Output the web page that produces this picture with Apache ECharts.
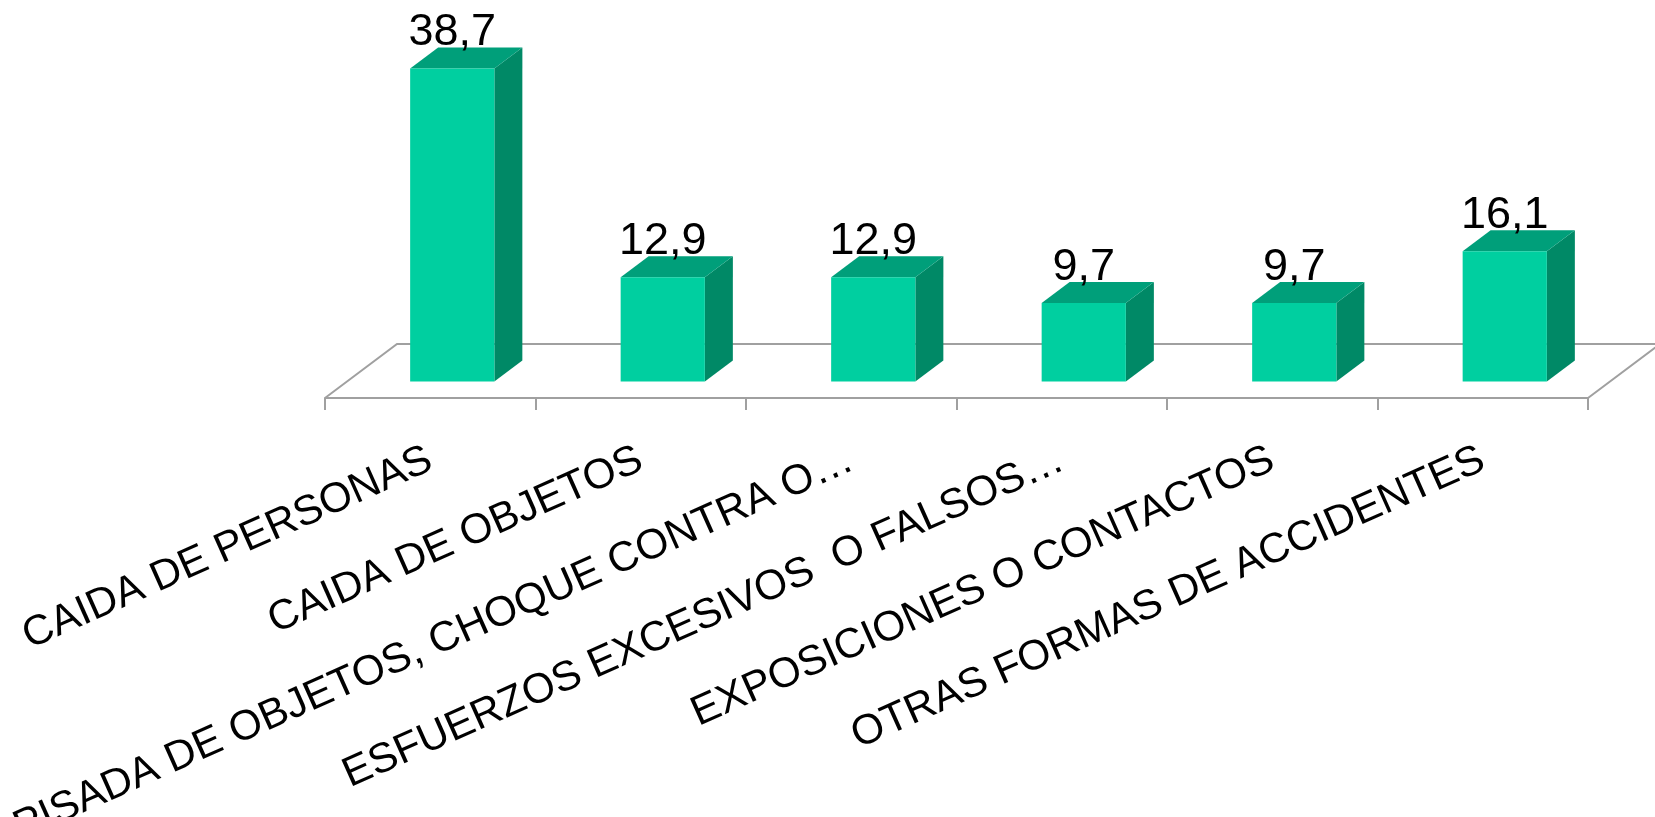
<!DOCTYPE html>
<html>
<head>
<meta charset="utf-8">
<script src="https://cdn.jsdelivr.net/npm/echarts@6/dist/echarts.min.js"></script>
<style>
  html, body { margin: 0; padding: 0; background: #fff; }
  #chart { width: 1655px; height: 817px; }
</style>
</head>
<body>
<div id="chart"></div>
<script>
var categories = [
  'CAIDA DE PERSONAS',
  'CAIDA DE OBJETOS',
  'PISADA DE OBJETOS, CHOQUE CONTRA O…',
  'ESFUERZOS EXCESIVOS  O FALSOS…',
  'EXPOSICIONES O CONTACTOS',
  'OTRAS FORMAS DE ACCIDENTES'
];
var values = [38.7, 12.9, 12.9, 9.7, 9.7, 16.1];

// pseudo 3d depth
var floorDx = 72, floorDy = 54;
var barDx = 28, barDy = 21;
var font = "'Liberation Sans', Arial, sans-serif";

var chart = echarts.init(document.getElementById('chart'));

function fmt(v) {
  return String(v).replace('.', ',');
}

var option = {
  animation: false,
  grid: {
    left: 325, right: 67, top: 34, bottom: 419,
    containLabel: false,
    outerBoundsMode: 'none'
  },
  xAxis: {
    type: 'category',
    data: categories,
    boundaryGap: true,
    axisLine: { lineStyle: { color: '#a0a0a0', width: 2 } },
    axisTick: { show: true, length: 12, lineStyle: { color: '#a0a0a0', width: 2 } },
    axisLabel: {
      interval: 0,
      rotate: 24,
      margin: 60,
      fontSize: 42,
      color: '#000',
      fontFamily: font
    }
  },
  yAxis: { type: 'value', min: 0, max: 45, show: false },
  series: [
    {
      // floor
      type: 'custom',
      z: 1,
      data: [[0]],
      renderItem: function (params, api) {
        var p0 = api.coord([0, 0]);
        var band = api.size([1, 0])[0];
        var left = p0[0] - band / 2;
        var right = left + band * categories.length;
        var y0 = p0[1];
        return {
          type: 'polyline',
          shape: {
            points: [
              [left, y0],
              [left + floorDx, y0 - floorDy],
              [right + floorDx, y0 - floorDy],
              [right, y0]
            ]
          },
          style: { fill: null, stroke: '#a0a0a0', lineWidth: 2 }
        };
      }
    },
    {
      type: 'custom',
      z: 3,
      data: values.map(function (v, i) { return [i, v]; }),
      renderItem: function (params, api) {
        var i = api.value(0), v = api.value(1);
        var base = api.coord([i, 0]);
        var top = api.coord([i, v]);
        var band = api.size([1, 0])[0];
        var w = band * 0.4;
        // bar sits in the middle of the floor depth
        var ox = (floorDx - barDx) / 2, oy = (floorDy - barDy) / 2;
        var x1 = base[0] - w / 2 + ox, x2 = x1 + w;
        var yb = base[1] - oy, yt = top[1] - oy;
        return {
          type: 'group',
          children: [
            {
              type: 'polygon',
              shape: { points: [[x2, yb], [x2 + barDx, yb - barDy], [x2 + barDx, yt - barDy], [x2, yt]] },
              style: { fill: '#008966' }
            },
            {
              type: 'polygon',
              shape: { points: [[x1, yt], [x1 + barDx, yt - barDy], [x2 + barDx, yt - barDy], [x2, yt]] },
              style: { fill: '#009f7a' }
            },
            {
              type: 'rect',
              shape: { x: x1, y: yt, width: w, height: yb - yt },
              style: { fill: '#00cfa0' }
            },
            {
              type: 'text',
              x: (x1 + x2) / 2,
              y: yt - barDy + 8,
              style: {
                text: fmt(v),
                fontSize: 45,
                fontFamily: font,
                fill: '#000',
                align: 'center',
                verticalAlign: 'bottom'
              }
            }
          ]
        };
      }
    }
  ]
};

chart.setOption(option);
</script>
</body>
</html>
